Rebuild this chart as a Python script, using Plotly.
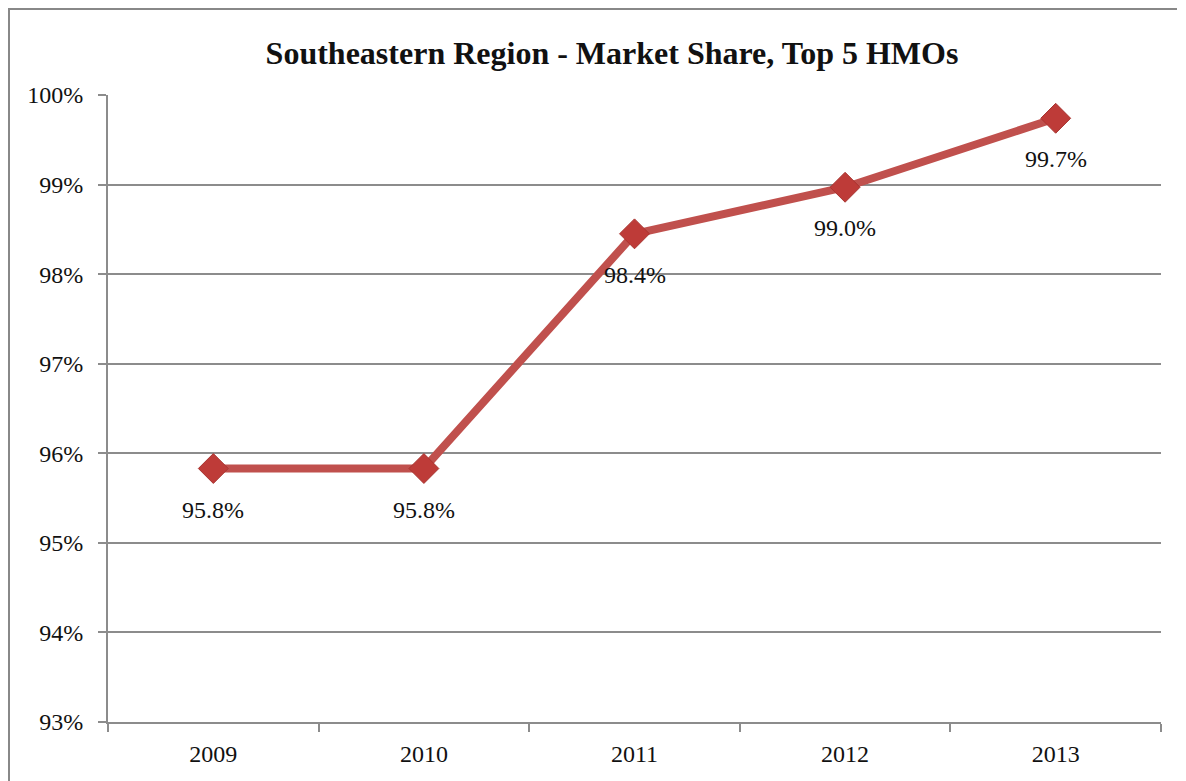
import plotly.graph_objects as go

years = ["2009", "2010", "2011", "2012", "2013"]
share = [95.83, 95.83, 98.45, 98.97, 99.74]
labels = ["95.8%", "95.8%", "98.4%", "99.0%", "99.7%"]
y_ticks = [93, 94, 95, 96, 97, 98, 99, 100]
y_tick_text = ["93%", "94%", "95%", "96%", "97%", "98%", "99%", "100%"]

# the page body adds an 8px offset, so the figure is sized to fit the window
W, H = 1178, 773
L, R, T, B = 100, 25, 87, 59
pw, ph = W - L - R, H - T - B

def px_x(p):
    return (p - L) / pw

def px_y(p):
    return (H - B - p) / ph

font_family = "Liberation Serif, Times New Roman, serif"
red = "#C0504D"
grid = "#8c8c8c"

xpos = list(range(len(years)))

fig = go.Figure()
fig.add_trace(go.Scatter(
    x=xpos, y=share, mode="lines+markers",
    line=dict(color=red, width=8),
    marker=dict(symbol="diamond", size=23, color="#BE3B38",
                line=dict(color="#A83430", width=1)),
    hoverinfo="skip", showlegend=False,
))

for x, y, t in zip(xpos, share, labels):
    fig.add_annotation(x=x, y=y, text=t, showarrow=False, yshift=-41,
                       font=dict(family=font_family, size=24, color="#111"))

# outer chart frame (partially cut off at right/bottom like the original)
fig.add_shape(type="line", xref="paper", yref="paper",
              x0=px_x(1), x1=px_x(1), y0=px_y(0), y1=px_y(H + 5),
              line=dict(color="#888", width=2))
fig.add_shape(type="line", xref="paper", yref="paper",
              x0=px_x(0), x1=px_x(1169), y0=px_y(1), y1=px_y(1),
              line=dict(color="#888", width=2))

fig.update_layout(
    width=W, height=H,
    margin=dict(l=L, r=R, t=T, b=B, autoexpand=False),
    paper_bgcolor="white", plot_bgcolor="white",
    title=dict(text="<b>Southeastern Region - Market Share, Top 5 HMOs</b>",
               x=604 / W, xanchor="center", y=1 - 45 / H, yanchor="middle",
               font=dict(family=font_family, size=32, color="#111")),
    font=dict(family=font_family, size=24, color="#111"),
)
fig.update_xaxes(
    range=[-0.5, len(years) - 0.5], tickvals=xpos, ticktext=years,
    ticks="", showline=True, linecolor=grid, linewidth=2,
    showgrid=False, zeroline=False, ticklabelstandoff=9,
    minor=dict(tick0=-0.5, dtick=1, ticks="outside", ticklen=8,
               tickwidth=2, tickcolor=grid, showgrid=False),
    tickfont=dict(family=font_family, size=24, color="#111"),
)
fig.update_yaxes(
    range=[93, 100], tickvals=y_ticks, ticktext=y_tick_text,
    ticks="outside", ticklen=8, tickwidth=2, tickcolor=grid,
    showline=True, linecolor=grid, linewidth=2,
    showgrid=True, gridcolor=grid, gridwidth=1.5, zeroline=False,
    ticklabelstandoff=10,
    tickfont=dict(family=font_family, size=24, color="#111"),
)

fig.write_html("out.html")
